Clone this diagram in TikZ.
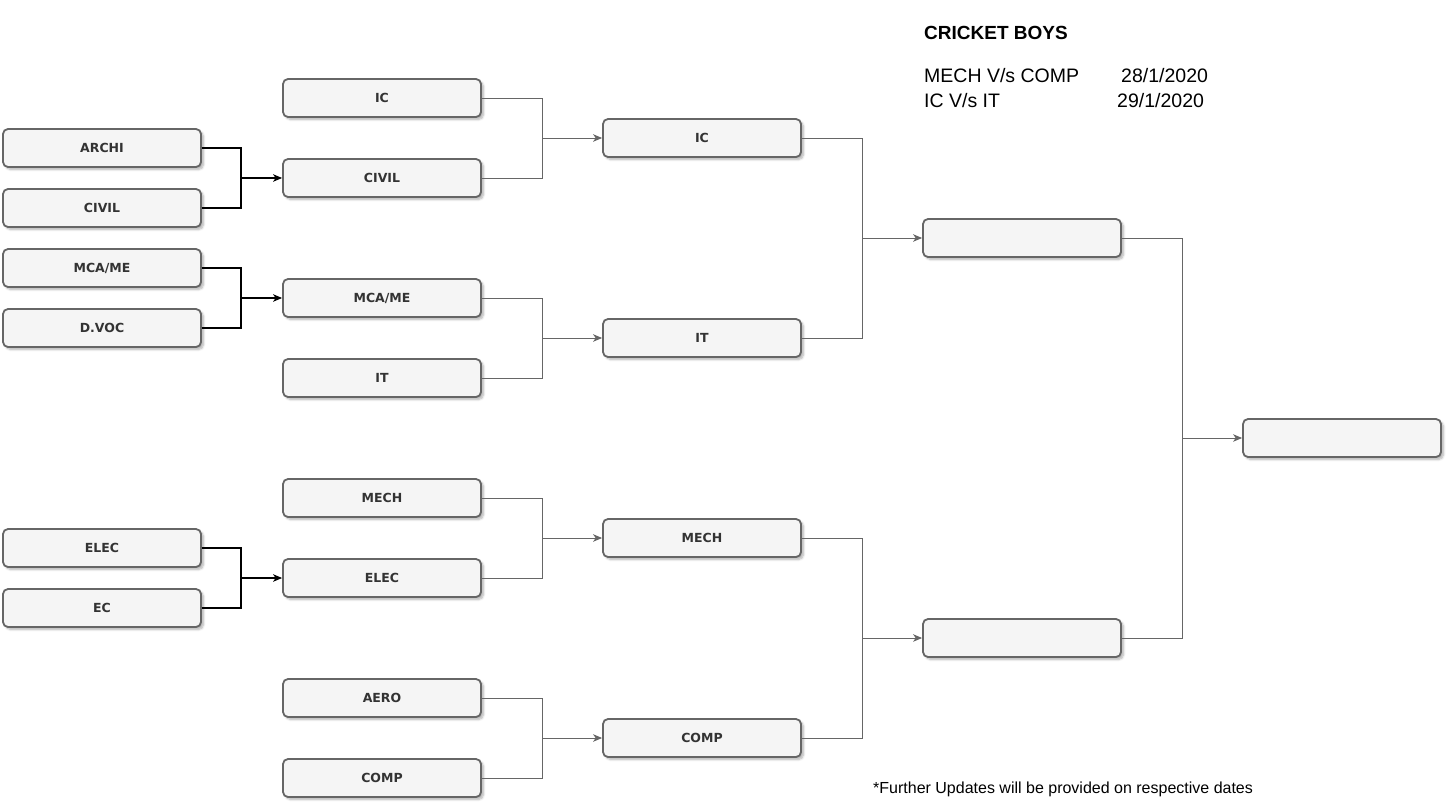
\documentclass[tikz,border=0pt]{standalone}
\usepackage{fontspec}
\setmainfont{Liberation Sans}
\newfontfamily\teamfont{DejaVu Sans}
\usetikzlibrary{arrows.meta,shadows.blur}

\definecolor{boxfill}{HTML}{F5F5F5}
\definecolor{boxline}{HTML}{666666}
\definecolor{boxtext}{HTML}{333333}

\tikzset{
  team/.style={draw=boxline, fill=boxfill, line width=1.8pt, rounded corners=5pt,
    minimum width=198pt, minimum height=38pt, text=boxtext,
    font=\teamfont\bfseries\fontsize{12.5}{14}\selectfont,
    blur shadow={shadow xshift=2.5pt, shadow yshift=-2.5pt, shadow blur steps=6, shadow opacity=30}},
  firstlink/.style={draw=black, line width=1.1pt},
  link/.style={draw=boxline, line width=0.9pt},
  tip/.style={-{Stealth[length=9pt,width=7.5pt,inset=2.5pt]}}
}

\begin{document}
\begin{tikzpicture}[x=1pt,y=-1pt]
  \useasboundingbox (0,0) rectangle (1453,810);

  % first round
  \node[team] (archi) at (102,148) {ARCHI};
  \node[team] (civilA) at (102,208) {CIVIL};
  \node[team] (mcaA) at (102,268) {MCA/ME};
  \node[team] (dvoc) at (102,328) {D.VOC};
  \node[team] (elecA) at (102,548) {ELEC};
  \node[team] (ec) at (102,608) {EC};

  % second round
  \node[team] (icA) at (382,98) {IC};
  \node[team] (civilB) at (382,178) {CIVIL};
  \node[team] (mcaB) at (382,298) {MCA/ME};
  \node[team] (itA) at (382,378) {IT};
  \node[team] (mechA) at (382,498) {MECH};
  \node[team] (elecB) at (382,578) {ELEC};
  \node[team] (aero) at (382,698) {AERO};
  \node[team] (compA) at (382,778) {COMP};

  % quarter finals
  \node[team] (icB) at (702,138) {IC};
  \node[team] (itB) at (702,338) {IT};
  \node[team] (mechB) at (702,538) {MECH};
  \node[team] (compB) at (702,738) {COMP};

  % semi finals and final
  \node[team] (semiA) at (1022,238) {};
  \node[team] (semiB) at (1022,638) {};
  \node[team] (final) at (1342,438) {};

  % junctions
  \coordinate (j1) at (241,178);
  \coordinate (j2) at (241,298);
  \coordinate (j3) at (241,578);
  \coordinate (j4) at (542,138);
  \coordinate (j5) at (542,338);
  \coordinate (j6) at (542,538);
  \coordinate (j7) at (542,738);
  \coordinate (j8) at (862,238);
  \coordinate (j9) at (862,638);
  \coordinate (j10) at (1182,438);

  \draw[firstlink] (archi.east) -| (j1);
  \draw[firstlink] (civilA.east) -| (j1);
  \draw[firstlink,tip] (j1) -- (civilB.west);
  \draw[firstlink] (mcaA.east) -| (j2);
  \draw[firstlink] (dvoc.east) -| (j2);
  \draw[firstlink,tip] (j2) -- (mcaB.west);
  \draw[firstlink] (elecA.east) -| (j3);
  \draw[firstlink] (ec.east) -| (j3);
  \draw[firstlink,tip] (j3) -- (elecB.west);

  \draw[link] (icA.east) -| (j4);
  \draw[link] (civilB.east) -| (j4);
  \draw[link,tip] (j4) -- (icB.west);
  \draw[link] (mcaB.east) -| (j5);
  \draw[link] (itA.east) -| (j5);
  \draw[link,tip] (j5) -- (itB.west);
  \draw[link] (mechA.east) -| (j6);
  \draw[link] (elecB.east) -| (j6);
  \draw[link,tip] (j6) -- (mechB.west);
  \draw[link] (aero.east) -| (j7);
  \draw[link] (compA.east) -| (j7);
  \draw[link,tip] (j7) -- (compB.west);

  \draw[link] (icB.east) -| (j8);
  \draw[link] (itB.east) -| (j8);
  \draw[link,tip] (j8) -- (semiA.west);
  \draw[link] (mechB.east) -| (j9);
  \draw[link] (compB.east) -| (j9);
  \draw[link,tip] (j9) -- (semiB.west);

  \draw[link] (semiA.east) -| (j10);
  \draw[link] (semiB.east) -| (j10);
  \draw[link,tip] (j10) -- (final.west);

  % schedule
  \node[anchor=base west, inner sep=0pt, font=\bfseries\fontsize{19}{20}\selectfont] (title) at (924,40) {CRICKET BOYS};
  \node[anchor=base west, inner sep=0pt, font=\fontsize{19.5}{20}\selectfont] (matchA) at (924,83) {MECH V/s COMP};
  \node[anchor=base west, inner sep=0pt, font=\fontsize{19.5}{20}\selectfont] (dateA) at (1121,83) {28/1/2020};
  \node[anchor=base west, inner sep=0pt, font=\fontsize{19.5}{20}\selectfont] (matchB) at (924,108) {IC V/s IT};
  \node[anchor=base west, inner sep=0pt, font=\fontsize{19.5}{20}\selectfont] (dateB) at (1117,108) {29/1/2020};
  \node[anchor=base west, inner sep=0pt, font=\fontsize{16}{18}\selectfont] (note) at (873,793) {*Further Updates will be provided on respective dates};
\end{tikzpicture}
\end{document}
